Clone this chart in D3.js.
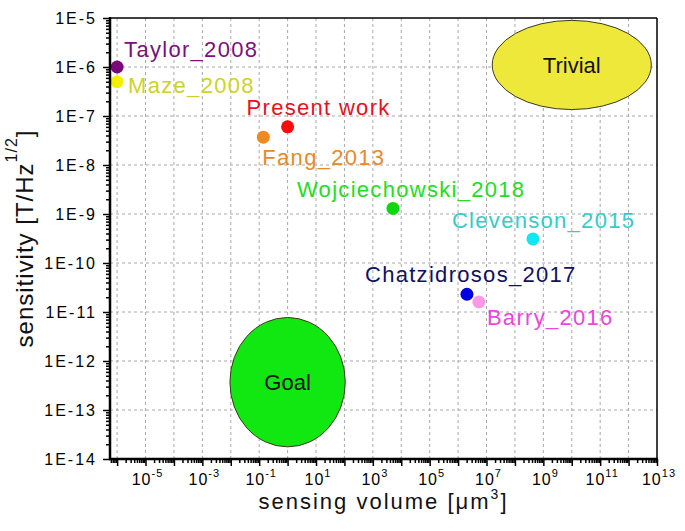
<!DOCTYPE html>
<html><head><meta charset="utf-8">
<script src="https://cdn.jsdelivr.net/npm/d3@7"></script>
<style>body{margin:0;background:#fff} text{font-family:"Liberation Sans",Arial,sans-serif}</style>
</head><body><svg id="c" width="685" height="531"></svg>
<script>
// ---- data ----
const names = ["Taylor_2008","Maze_2008","Present work","Fang_2013","Wojciechowski_2018","Clevenson_2015","Chatzidrosos_2017","Barry_2016"];
const volumes = [1e-6, 1e-6, 1, 0.14, 5100, 4.3e8, 2.05e6, 5.4e6];
const sensitivities = [1e-6, 5e-7, 6e-8, 3.7e-8, 1.3e-9, 3.1e-10, 2.3e-11, 1.6e-11];
const regionNames = ["Trivial", "Goal"];
const regionVolumes = [1e10, 1];
const regionSens = [1.1e-6, 3.7e-13];
const regionVolHalfDecades = [2.8, 2.03];
const regionSensHalfDecades = [0.91, 1.32];
const yTickValues = [1e-14,1e-13,1e-12,1e-11,1e-10,1e-9,1e-8,1e-7,1e-6,1e-5];
const yTickLabels = ["1E-14","1E-13","1E-12","1E-11","1E-10","1E-9","1E-8","1E-7","1E-6","1E-5"];
const xTickExponents = [-5,-3,-1,1,3,5,7,9,11,13];

// ---- styles / layout ----
const dotColors = ["#7a0a7a","#f2f000","#ff0a0a","#f08a20","#0ad80a","#12e6f0","#0000dd","#ff99e6"];
const labelColors = ["#7b0f7b","#cdd22a","#e8101e","#e8892a","#22dd22","#33cccc","#101060","#ee44e0"];
const labelOffsets = [[7,-10],[11,11],[-41,-12],[-1,28],[-96,-11],[-81,-11],[-102,-12],[8,23]];
const regionFills = ["#eee83a","#11e811"];

const W = 685, H = 531;
const m = {l:110, r:28, t:18, b:72};
const svg = d3.select("#c");
const x = d3.scaleLog().domain([Math.pow(10,-6.25), 1e13]).range([m.l, W - m.r]);
const y = d3.scaleLog().domain([1e-14, 1e-5]).range([H - m.b, m.t]);

// grid
const xDecades = d3.range(-6, 13).map(e => Math.pow(10, e));
const yDecades = d3.range(-13, -5).map(e => Math.pow(10, e));
const grid = svg.append("g").attr("stroke", "#a8a8a8").attr("stroke-dasharray", "3,3").attr("stroke-width", 1);
grid.selectAll(".gx").data(xDecades).join("line")
  .attr("x1", d => x(d)).attr("x2", d => x(d)).attr("y1", m.t).attr("y2", H - m.b);
grid.selectAll(".gy").data(yDecades).join("line")
  .attr("y1", d => y(d)).attr("y2", d => y(d)).attr("x1", m.l).attr("x2", W - m.r);

// regions
const reg = svg.append("g");
regionNames.forEach((n, i) => {
  const cx = x(regionVolumes[i]), cy = y(regionSens[i]);
  const rx = x(regionVolumes[i] * Math.pow(10, regionVolHalfDecades[i])) - cx;
  const ry = cy - y(regionSens[i] * Math.pow(10, regionSensHalfDecades[i]));
  reg.append("ellipse").attr("cx", cx).attr("cy", cy).attr("rx", rx).attr("ry", ry)
    .attr("fill", regionFills[i]).attr("stroke", "#3a3a20").attr("stroke-width", 1);
  reg.append("text").attr("x", cx).attr("y", cy).attr("dy", "0.35em")
    .attr("text-anchor", "middle").attr("font-size", 22).attr("fill", "#111").text(n);
});

// points
const pts = names.map((n, i) => ({n, v: volumes[i], s: sensitivities[i], i}));
svg.append("g").selectAll("circle").data(pts).join("circle")
  .attr("cx", d => x(d.v)).attr("cy", d => y(d.s)).attr("r", 6.5)
  .attr("fill", d => dotColors[d.i]);
svg.append("g").selectAll("text").data(pts).join("text")
  .attr("x", d => x(d.v) + labelOffsets[d.i][0]).attr("y", d => y(d.s) + labelOffsets[d.i][1])
  .attr("font-size", 22).style("letter-spacing", "1.3px")
  .attr("fill", d => labelColors[d.i]).text(d => d.n);

// axes
function minorTicks(lo, hi) {
  const out = [];
  for (let e = lo; e <= hi; e++) for (let k = 2; k <= 9; k++) out.push(k * Math.pow(10, e));
  return out;
}
const xMin = minorTicks(-7, 12).filter(v => v >= x.domain()[0] && v <= x.domain()[1]);
const yMin = minorTicks(-14, -6);
const xMaj = d3.range(-6, 14).map(e => Math.pow(10, e));

const gxMin = svg.append("g").attr("transform", `translate(0,${H - m.b})`)
  .call(d3.axisBottom(x).tickValues(xMin).tickSize(4).tickFormat(""));
const gx = svg.append("g").attr("transform", `translate(0,${H - m.b})`)
  .call(d3.axisBottom(x).tickValues(xMaj).tickSize(7).tickFormat(""));
const gyMin = svg.append("g").attr("transform", `translate(${m.l},0)`)
  .call(d3.axisLeft(y).tickValues(yMin).tickSize(4).tickFormat(""));
const gy = svg.append("g").attr("transform", `translate(${m.l},0)`)
  .call(d3.axisLeft(y).tickValues(yTickValues).tickSize(7).tickFormat((d, i) => yTickLabels[i]));
[gxMin, gx, gyMin, gy].forEach(g => {
  g.selectAll(".domain").remove();
  g.selectAll(".tick line").attr("stroke", "#000").attr("stroke-width", 1.5);
});
gy.selectAll(".tick text").attr("x", -13).attr("font-size", 16)
  .style("letter-spacing", "2px").attr("fill", "#000").attr("font-family", null);

// x tick labels with superscripts
const xl = svg.append("g");
xTickExponents.forEach(e => {
  const t = xl.append("text").attr("x", x(Math.pow(10, e)) + 2).attr("y", 485)
    .attr("text-anchor", "middle").attr("font-size", 16).style("letter-spacing", "1px").attr("fill", "#000");
  t.append("tspan").text("10");
  t.append("tspan").attr("font-size", 11).attr("dy", -8).text(String(e));
});

// frame
svg.append("line").attr("x1", m.l).attr("x2", W - m.r).attr("y1", m.t).attr("y2", m.t).attr("stroke", "#000").attr("stroke-width", 1.5);
svg.append("line").attr("x1", W - m.r).attr("x2", W - m.r).attr("y1", m.t).attr("y2", H - m.b).attr("stroke", "#000").attr("stroke-width", 1.5);
svg.append("line").attr("x1", m.l).attr("x2", m.l).attr("y1", m.t - 1).attr("y2", H - m.b + 1).attr("stroke", "#000").attr("stroke-width", 2.5);
svg.append("line").attr("x1", m.l - 1).attr("x2", W - m.r + 1).attr("y1", H - m.b).attr("y2", H - m.b).attr("stroke", "#000").attr("stroke-width", 2.5);

// axis titles
const xt = svg.append("text").attr("x", (m.l + W - m.r) / 2).attr("y", 509)
  .attr("text-anchor", "middle").attr("font-size", 22).style("letter-spacing", "2px").attr("fill", "#111");
xt.append("tspan").text("sensing volume [\u03BCm");
xt.append("tspan").attr("font-size", 14).attr("dy", -10).text("3");
xt.append("tspan").attr("dy", 10).text("]");

const yt = svg.append("text").attr("transform", `translate(33,${(m.t + H - m.b) / 2}) rotate(-90)`)
  .attr("text-anchor", "middle").attr("font-size", 24).style("letter-spacing", "1px").attr("fill", "#111");
yt.append("tspan").text("sensitivity [T/Hz");
yt.append("tspan").attr("font-size", 16).attr("dy", -16).text("1/2");
yt.append("tspan").attr("dy", 16).text("]");
</script></body></html>
